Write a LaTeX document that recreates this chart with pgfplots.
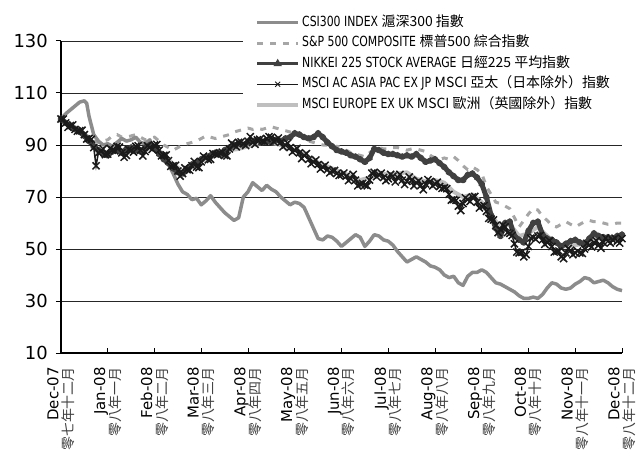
\documentclass[border=0pt]{standalone}
\usepackage{pgfplots}
\pgfplotsset{compat=1.18}
\usepackage{fontspec}
\setmainfont{DejaVu Sans}
\newfontfamily\cjk{Noto Sans CJK TC}
\newfontfamily\narrow[FakeStretch=0.78]{DejaVu Sans}

\definecolor{csi}{HTML}{8C8C8C}
\definecolor{spx}{HTML}{A6A6A6}
\definecolor{nky}{HTML}{404040}
\definecolor{asia}{HTML}{1A1A1A}
\definecolor{euro}{HTML}{BFBFBF}

% two-line month label: English on the first line, Chinese below
\newcommand\mlab[2]{#1\\{\cjk\fontsize{14}{15}\selectfont\color{black!75}#2}}

\begin{document}
\begin{tikzpicture}
\begin{axis}[
  at={(0,0)}, anchor=south west,
  scale only axis, width=561bp, height=312bp,
  xmin=0, xmax=12, ymin=10, ymax=130,
  axis x line*=bottom, axis y line*=left,
  axis line style={black, line width=1.2bp},
  xtick={0,...,12}, ytick={10,30,...,130},
  xtick align=inside, ytick align=outside,
  major tick length=5bp,
  tick style={black, line width=1bp},
  ymajorgrids, grid style={black!85, line width=0.8bp},
  /pgf/number format/assume math mode=true,
  yticklabel style={font=\fontsize{18}{18}\selectfont, inner sep=0pt},
  yticklabel shift=8bp,
  xticklabel style={font=\fontsize{15}{15}\selectfont, rotate=90, anchor=east, align=right, inner sep=0pt},
  xticklabel shift=14bp,
  xticklabels={
    {\mlab{Dec-07}{零七年十二月}},
    {\mlab{Jan-08}{零八年一月}},
    {\mlab{Feb-08}{零八年二月}},
    {\mlab{Mar-08}{零八年三月}},
    {\mlab{Apr-08}{零八年四月}},
    {\mlab{May-08}{零八年五月}},
    {\mlab{Jun-08}{零八年六月}},
    {\mlab{Jul-08}{零八年七月}},
    {\mlab{Aug-08}{零八年八月}},
    {\mlab{Sep-08}{零八年九月}},
    {\mlab{Oct-08}{零八年十月}},
    {\mlab{Nov-08}{零八年十一月}},
    {\mlab{Dec-08}{零八年十二月}}},
  clip=false,
  legend style={at={(0.3244,1.096)}, anchor=north west, draw=none, fill=white,
    font=\fontsize{14}{16}\selectfont, inner xsep=12bp, inner ysep=4bp,
    row sep=5.5bp, column sep=1bp,
    nodes={inner sep=1bp, text height=10bp, text depth=3bp}},
  legend cell align=left,
  legend image code/.code={%
    \draw[mark repeat=2, mark phase=2, #1]
      plot coordinates {(0bp,0bp) (20.5bp,0bp) (41bp,0bp)};},
]

% MSCI Europe ex UK
\addplot[euro, line width=4bp, line join=round, forget plot] coordinates {
(0.0,100) (0.2,97.5) (0.4,95.5) (0.6,92.5) (0.8,88) (1.0,87) (1.2,89) (1.4,87)
(1.6,89) (1.8,88) (2.0,89) (2.2,86.5) (2.4,82.5) (2.6,80) (2.8,82) (3.0,84)
(3.2,85) (3.4,87) (3.6,88) (3.8,88.5) (4.0,89.5) (4.2,90.5) (4.4,91) (4.6,90.5)
(4.8,89.5) (5.0,88) (5.2,86.5) (5.4,84) (5.6,82.5) (5.8,81) (6.0,79.5) (6.2,78)
(6.4,76.5) (6.6,77.5) (6.8,79.5) (7.0,78.5) (7.2,79) (7.4,79.5) (7.6,77) (7.8,76)
(8.0,76.5) (8.2,75.5) (8.4,72) (8.6,70) (8.8,71) (9.0,68) (9.2,63) (9.4,58.5)
(9.6,59.5) (9.8,55) (10.0,56) (10.2,58.5) (10.4,55) (10.6,52) (10.8,51) (11.0,51.5)
(11.2,52) (11.4,54) (11.6,54) (11.8,54.5) (12.0,55)};

% S&P 500
\addplot[spx, line width=3bp, dash pattern=on 6bp off 7bp, forget plot] coordinates {
(0.0,100) (0.1,99) (0.2,98) (0.3,97) (0.4,96) (0.5,94.5) (0.6,93) (0.7,91.5)
(0.8,91) (0.9,91.5) (1.0,92) (1.1,93.5) (1.2,94) (1.3,93) (1.4,93) (1.5,93.5)
(1.6,94) (1.7,93) (1.8,92) (1.9,92.5) (2.0,93) (2.1,91.5) (2.2,90) (2.3,89)
(2.4,88) (2.5,89) (2.6,90) (2.7,90.5) (2.8,91) (2.9,91.5) (3.0,92.5) (3.1,93.5)
(3.2,93) (3.3,92.5) (3.4,93) (3.5,93.5) (3.6,94) (3.7,95) (3.8,95.5) (3.9,96)
(4.0,96.5) (4.1,96) (4.2,96.5) (4.3,96) (4.4,96.5) (4.5,97) (4.6,96.5) (4.7,96)
(4.8,95.5) (4.9,95) (5.0,94.5) (5.1,93.5) (5.2,92.5) (5.3,91.5) (5.4,91) (5.5,90.5)
(5.6,90) (5.7,90) (5.8,89) (5.9,89.5) (6.0,89) (6.1,88) (6.2,87) (6.3,86.5)
(6.4,86) (6.5,85.5) (6.6,87) (6.7,88.5) (6.8,89) (6.9,88.5) (7.0,88.5) (7.1,89)
(7.2,89) (7.3,88.5) (7.4,88) (7.5,88.5) (7.6,88.5) (7.7,88) (7.8,87.5) (7.9,86)
(8.0,85) (8.1,84.5) (8.2,85) (8.3,84.5) (8.4,85.5) (8.5,84) (8.6,82) (8.7,80.5)
(8.8,81.5) (8.9,80.5) (9.0,79) (9.1,74) (9.2,71) (9.3,68) (9.4,67.5) (9.5,66.5)
(9.6,65.5) (9.7,62) (9.8,58.5) (9.9,61) (10.0,63.5) (10.1,65.5) (10.2,65) (10.3,62.5)
(10.4,61) (10.5,59) (10.6,58.5) (10.7,59.5) (10.8,60.5) (10.9,59.5) (11.0,58.5) (11.1,59.5)
(11.2,60.5) (11.3,61) (11.4,60.5) (11.5,60.5) (11.6,60) (11.7,59.5) (11.8,59.5) (11.9,60)
(12.0,60)};

% CSI 300
\addplot[csi, line width=3.5bp, line join=round, forget plot] coordinates {
(0.0,100) (0.1,102) (0.2,103.5) (0.3,105) (0.4,106.5) (0.5,107) (0.55,106) (0.6,101)
(0.7,94) (0.8,91.5) (0.9,90) (1.0,90.5) (1.1,89.5) (1.2,91) (1.3,92.5) (1.4,91.5)
(1.5,92) (1.6,93) (1.7,91) (1.8,90.5) (1.9,92) (2.0,88) (2.1,86.5) (2.2,85)
(2.3,82.5) (2.4,79) (2.5,75) (2.6,72) (2.7,71) (2.8,69) (2.9,69.5) (3.0,67)
(3.1,68.5) (3.2,70.5) (3.3,68) (3.4,66) (3.5,64) (3.6,62.5) (3.7,61) (3.8,62)
(3.9,70) (4.0,72) (4.1,75.5) (4.2,74) (4.3,72.5) (4.4,74.5) (4.5,73) (4.6,72)
(4.7,70) (4.8,68.5) (4.9,67) (5.0,68) (5.1,67.5) (5.2,66) (5.3,62) (5.4,58)
(5.5,54) (5.6,53.5) (5.7,55) (5.8,54.5) (5.9,53) (6.0,51) (6.1,52.5) (6.2,54)
(6.3,55.5) (6.4,54.5) (6.5,51) (6.6,53) (6.7,55.5) (6.8,55) (6.9,53.5) (7.0,53)
(7.1,51.5) (7.2,49) (7.3,47) (7.4,45) (7.5,46) (7.6,47) (7.7,46) (7.8,45)
(7.9,43.5) (8.0,43) (8.1,42) (8.2,40) (8.3,39) (8.4,39.5) (8.5,37) (8.6,36)
(8.7,39.5) (8.8,41) (8.9,41) (9.0,42) (9.1,41) (9.2,39) (9.3,37) (9.4,36.5)
(9.5,35.5) (9.6,34.5) (9.7,33.5) (9.8,32) (9.9,31) (10.0,31) (10.1,31.5) (10.2,31)
(10.3,32.5) (10.4,35) (10.5,37) (10.6,36.5) (10.7,35) (10.8,34.5) (10.9,35) (11.0,36.5)
(11.1,37.5) (11.2,39) (11.3,38.5) (11.4,37) (11.5,37.5) (11.6,38) (11.7,37) (11.8,35.5)
(11.9,34.5) (12.0,34)};

% Nikkei 225
\addplot[nky, line width=5bp, line join=round, mark=triangle*, mark size=1bp, forget plot] coordinates {
(0.0,100) (0.1,98.5) (0.2,97) (0.3,96) (0.4,95) (0.5,93.5) (0.6,91.5) (0.7,89.5)
(0.8,88) (0.9,86.5) (1.0,86) (1.1,87.5) (1.2,88.5) (1.3,87) (1.4,88.5) (1.5,89)
(1.6,88) (1.7,87.5) (1.8,89) (1.9,90) (2.0,89) (2.1,86.5) (2.2,84.5) (2.3,83)
(2.4,81) (2.5,79.5) (2.6,79) (2.7,81) (2.8,82.5) (2.9,83) (3.0,84.5) (3.1,85.5)
(3.2,86) (3.3,87) (3.4,86.5) (3.5,88) (3.6,89) (3.7,90) (3.8,90.5) (3.9,90)
(4.0,91) (4.1,91.5) (4.2,92) (4.3,91) (4.4,91.5) (4.5,91) (4.6,92) (4.7,91.5)
(4.8,92.5) (4.9,93) (5.0,94.5) (5.1,94) (5.2,93) (5.3,92.5) (5.4,93) (5.5,94.5)
(5.6,93) (5.7,91) (5.8,89.5) (5.9,88) (6.0,87.5) (6.1,87) (6.2,86) (6.3,85.5)
(6.4,84.5) (6.5,83.5) (6.6,85) (6.7,88.5) (6.8,88) (6.9,87) (7.0,86.5) (7.1,86.5)
(7.2,86) (7.3,85.5) (7.4,86) (7.5,85.5) (7.6,86.5) (7.7,85) (7.8,83.5) (7.9,84)
(8.0,84.5) (8.1,83) (8.2,81.5) (8.3,79.5) (8.4,78) (8.5,76.5) (8.6,76.5) (8.7,78.5)
(8.8,79) (8.9,77.5) (9.0,75) (9.1,70) (9.2,63) (9.3,58) (9.4,55) (9.5,60)
(9.6,60.5) (9.7,55) (9.8,53.5) (9.9,52.5) (10.0,57) (10.1,60) (10.2,60.5) (10.3,55.5)
(10.4,54) (10.5,53.5) (10.6,52.5) (10.7,51) (10.8,52) (10.9,53) (11.0,53.5) (11.1,52.5)
(11.2,52) (11.3,54) (11.4,56) (11.5,55) (11.6,54.5) (11.7,54.5) (11.8,54) (11.9,55)
(12.0,55.5)};

% MSCI AC Asia Pacific ex Japan
\addplot[asia, line width=1.5bp, mark=x, mark size=5bp, mark options={line width=1.5bp}, forget plot] coordinates {
(0.0,100) (0.05,100) (0.1,98.5) (0.15,96.8) (0.2,97.5) (0.25,97.7) (0.3,96) (0.35,95.3)
(0.4,95.5) (0.45,95.7) (0.5,94) (0.55,92.3) (0.6,92.5) (0.65,92.2) (0.7,89) (0.75,82)
(0.8,87) (0.85,87.7) (0.9,88.5) (0.95,86.3) (1.0,86.5) (1.05,88.7) (1.1,88) (1.15,87.8)
(1.2,89.5) (1.25,89.2) (1.3,87) (1.35,85.3) (1.4,86) (1.45,88.2) (1.5,88) (1.55,87.3)
(1.6,89.5) (1.65,89.7) (1.7,88) (1.75,85.8) (1.8,87.5) (1.85,89.7) (1.9,89) (1.95,88.3)
(2.0,90) (2.05,90.2) (2.1,88) (2.15,85.8) (2.2,86) (2.25,86.2) (2.3,84) (2.35,81.8)
(2.4,82) (2.45,82.2) (2.5,80) (2.55,78) (2.6,79) (2.65,81.2) (2.7,80.5) (2.75,80.3)
(2.8,82) (2.85,83.7) (2.9,81.5) (2.95,81.3) (3.0,83.5) (3.05,85.7) (3.1,85) (3.15,84.3)
(3.2,84.5) (3.25,86.7) (3.3,86.5) (3.35,86.3) (3.4,87) (3.45,87.2) (3.5,86) (3.55,85.8)
(3.6,88.5) (3.65,90.7) (3.7,90) (3.75,89.3) (3.8,91) (3.85,91.2) (3.9,90.5) (3.95,89.8)
(4.0,91.5) (4.05,93.2) (4.1,91) (4.15,90.3) (4.2,92) (4.25,92.2) (4.3,91.5) (4.35,91.3)
(4.4,92.5) (4.45,93.2) (4.5,93) (4.55,91.3) (4.6,92) (4.65,92.7) (4.7,91) (4.75,89.3)
(4.8,90) (4.85,90.7) (4.9,89) (4.95,87.3) (5.0,88) (5.05,88.7) (5.1,87) (5.15,84.8)
(5.2,86) (5.25,86.7) (5.3,84.5) (5.35,82.8) (5.4,83.5) (5.45,84.2) (5.5,82.5) (5.55,80.8)
(5.6,81.5) (5.65,82.2) (5.7,80.5) (5.75,79.3) (5.8,80) (5.85,80.2) (5.9,79) (5.95,78.3)
(6.0,78.5) (6.05,79.2) (6.1,78) (6.15,76.3) (6.2,77) (6.25,78.7) (6.3,76.5) (6.35,74.3)
(6.4,75) (6.45,75.2) (6.5,74.5) (6.55,74.3) (6.6,76.5) (6.65,79.2) (6.7,79.5) (6.75,77.8)
(6.8,78.5) (6.85,79.2) (6.9,77.5) (6.95,76.3) (7.0,77) (7.05,78.7) (7.1,78) (7.15,75.8)
(7.2,77.5) (7.25,78.7) (7.3,76.5) (7.35,74.8) (7.4,76) (7.45,77.7) (7.5,76.5) (7.55,74.3)
(7.6,75.5) (7.65,76.2) (7.7,74.5) (7.75,72.8) (7.8,75) (7.85,76.7) (7.9,76) (7.95,74.3)
(8.0,75) (8.05,75.7) (8.1,74) (8.15,73.3) (8.2,73.5) (8.25,73.2) (8.3,71) (8.35,68.8)
(8.4,69) (8.45,68.7) (8.5,66.5) (8.55,64.8) (8.6,67.5) (8.65,69.7) (8.7,69) (8.75,68.3)
(8.8,70) (8.85,70.2) (8.9,68) (8.95,65.8) (9.0,66.5) (9.05,66.7) (9.1,64.5) (9.15,61.8)
(9.2,61.5) (9.25,61.2) (9.3,59) (9.35,56.3) (9.4,57.5) (9.45,59.2) (9.5,58.5) (9.55,56.3)
(9.6,56) (9.65,55.2) (9.7,52) (9.75,48.8) (9.8,48.5) (9.85,48.7) (9.9,47) (9.95,47.8)
(10.0,51) (10.05,54.2) (10.1,54.5) (10.15,53.8) (10.2,55) (10.25,55.2) (10.3,53.5) (10.35,51.8)
(10.4,52.5) (10.45,53.2) (10.5,51) (10.55,48.8) (10.6,49) (10.65,49.2) (10.7,47) (10.75,46.3)
(10.8,48.5) (10.85,50.2) (10.9,49.5) (10.95,47.8) (11.0,48.5) (11.05,49.2) (11.1,48.5) (11.15,48.3)
(11.2,50) (11.25,52.2) (11.3,51.5) (11.35,50.8) (11.4,52.5) (11.45,53.2) (11.5,51.5) (11.55,50.3)
(11.6,52.5) (11.65,54.2) (11.7,53) (11.75,52.3) (11.8,53.5) (11.85,54.2) (11.9,53) (11.95,52.3)
(12.0,54)};

% legend, listed in the series' reading order
\addlegendimage{csi, line width=3.5bp}
\addlegendentry{\narrow CSI300 INDEX \cjk 滬深300 指數}
\addlegendimage{spx, line width=3bp, dash pattern=on 6bp off 7bp}
\addlegendentry{\narrow S\&P 500 COMPOSITE \cjk 標普500 綜合指數}
\addlegendimage{nky, line width=3.5bp, mark=triangle*, mark size=1.5bp}
\addlegendentry{\narrow NIKKEI 225 STOCK AVERAGE \cjk 日經225 平均指數}
\addlegendimage{asia, line width=0.8bp, mark=x, mark size=3.5bp}
\addlegendentry{\narrow MSCI AC ASIA PAC EX JP \cjk MSCI 亞太（日本除外）指數}
\addlegendimage{euro, line width=4bp}
\addlegendentry{\narrow MSCI EUROPE EX UK \cjk MSCI 歐洲（英國除外）指數}
\end{axis}
\pgfresetboundingbox
\path[use as bounding box] (-61bp,-106bp) rectangle (576bp,353bp);
\end{tikzpicture}
\end{document}
